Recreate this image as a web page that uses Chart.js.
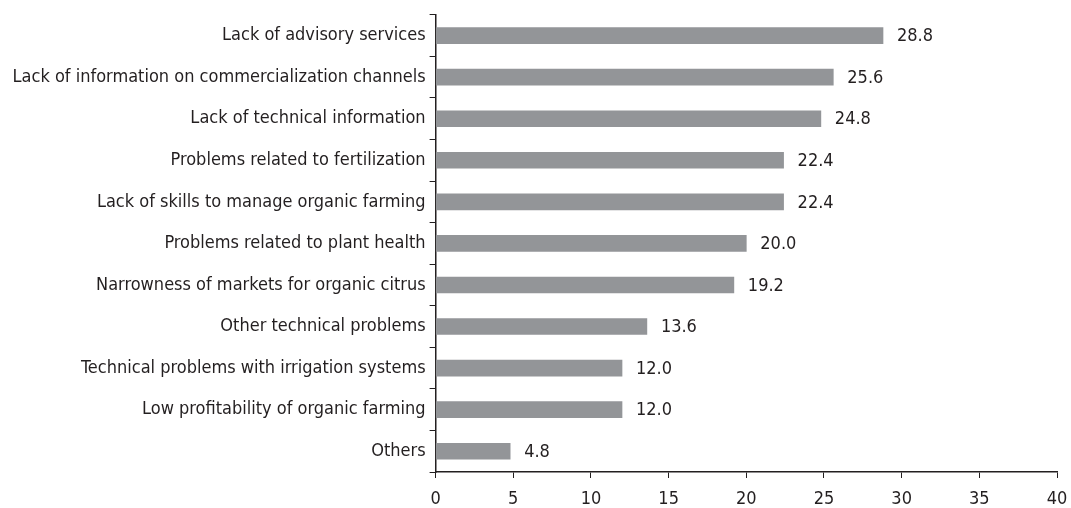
<!DOCTYPE html>
<html><head><meta charset="utf-8">
<script src="https://cdn.jsdelivr.net/npm/chart.js@4/dist/chart.umd.min.js"></script>
<style>html,body{margin:0;padding:0;background:#fff}#wrap{width:1071px;height:508px}</style>
</head><body><div id="wrap"><canvas id="c" width="1071" height="508"></canvas></div>
<script>
const categories = [
  "Lack of advisory services",
  "Lack of information on commercialization channels",
  "Lack of technical information",
  "Problems related to fertilization",
  "Lack of skills to manage organic farming",
  "Problems related to plant health",
  "Narrowness of markets for organic citrus",
  "Other technical problems",
  "Technical problems with irrigation systems",
  "Low profitability of organic farming",
  "Others"
];
const values = [28.8, 25.6, 24.8, 22.4, 22.4, 20.0, 19.2, 13.6, 12.0, 12.0, 4.8];
const xTicks = [0, 5, 10, 15, 20, 25, 30, 35, 40];

const FONT = "'Liberation Sans Narrow', 'DejaVu Sans Condensed', 'Liberation Sans', sans-serif";
const TEXT = '#231f20';

const valueLabels = {
  id: 'valueLabels',
  afterDatasetsDraw(chart) {
    const ctx = chart.ctx;
    const meta = chart.getDatasetMeta(0);
    ctx.save();
    ctx.font = '18px ' + FONT;
    ctx.fillStyle = TEXT;
    ctx.textAlign = 'left';
    ctx.textBaseline = 'middle';
    meta.data.forEach((bar, i) => {
      ctx.fillText(values[i].toFixed(1), bar.x + 14, bar.y + 1);
    });
    ctx.restore();
  }
};

new Chart(document.getElementById('c'), {
  type: 'bar',
  data: {
    labels: categories,
    datasets: [{
      data: values,
      backgroundColor: '#939598',
      borderWidth: 0,
      barThickness: 16
    }]
  },
  options: {
    indexAxis: 'y',
    responsive: false,
    animation: false,
    layout: { padding: { top: 14, right: 0, left: 0, bottom: 0 } },
    plugins: { legend: { display: false }, tooltip: { enabled: false } },
    scales: {
      x: {
        min: 0, max: 40,
        afterBuildTicks(axis) { axis.ticks = xTicks.map(v => ({ value: v })); },
        afterFit(axis) { axis.height = 36; axis.paddingRight = 14; },
        grid: { drawOnChartArea: false, drawTicks: true, tickLength: 6, color: TEXT, lineWidth: 1 },
        border: { color: TEXT, width: 1.5 },
        ticks: { color: TEXT, font: { family: FONT, size: 18 }, padding: 11, maxRotation: 0 }
      },
      y: {
        afterFit(axis) { axis.width = 435.6; },
        grid: { drawOnChartArea: false, drawTicks: true, tickLength: 6, color: TEXT, lineWidth: 1, offset: true },
        border: { color: TEXT, width: 1.5 },
        ticks: { color: TEXT, font: { family: FONT, size: 18 }, padding: 4, autoSkip: false }
      }
    }
  },
  plugins: [valueLabels]
});
</script></body></html>
